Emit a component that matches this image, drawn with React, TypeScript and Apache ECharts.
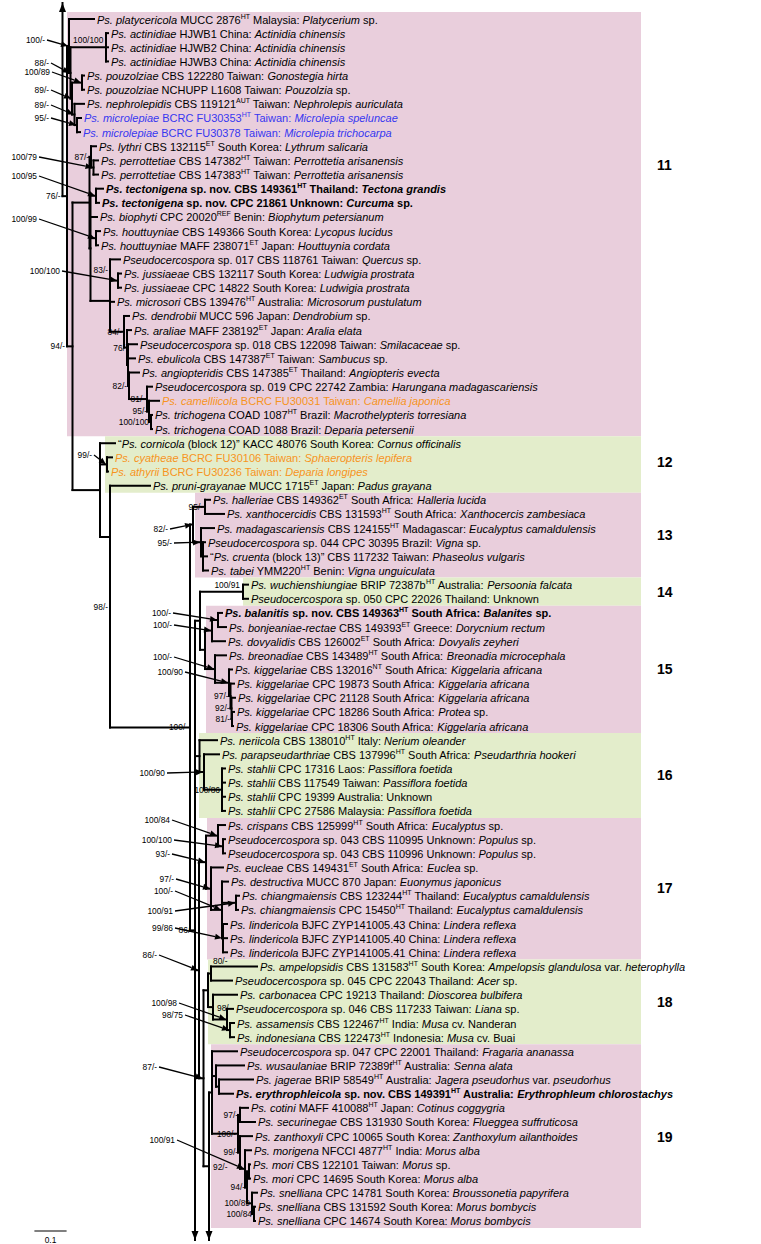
import React, { useEffect, useRef } from "react";
import * as echarts from "echarts";

// ---------- DATA ----------
// Taxa, top to bottom. *italic*, ^superscript^
const TAXA: string[] = [
  "*Ps. platycericola* MUCC 2876^HT^ Malaysia: *Platycerium* sp.",
  "*Ps. actinidiae* HJWB1 China: *Actinidia chinensis*",
  "*Ps. actinidiae* HJWB2 China: *Actinidia chinensis*",
  "*Ps. actinidiae* HJWB3 China: *Actinidia chinensis*",
  "*Ps. pouzolziae* CBS 122280 Taiwan: *Gonostegia hirta*",
  "*Ps. pouzolziae* NCHUPP L1608 Taiwan: *Pouzolzia* sp.",
  "*Ps. nephrolepidis* CBS 119121^AUT^ Taiwan: *Nephrolepis auriculata*",
  "*Ps. microlepiae* BCRC FU30353^HT^ Taiwan: *Microlepia speluncae*",
  "*Ps. microlepiae* BCRC FU30378 Taiwan: *Microlepia trichocarpa*",
  "*Ps. lythri* CBS 132115^ET^ South Korea: *Lythrum salicaria*",
  "*Ps. perrottetiae* CBS 147382^HT^ Taiwan: *Perrottetia arisanensis*",
  "*Ps. perrottetiae* CBS 147383^HT^ Taiwan: *Perrottetia arisanensis*",
  "*Ps. tectonigena* sp. nov. CBS 149361^HT^ Thailand: *Tectona grandis*",
  "*Ps. tectonigena* sp. nov. CPC 21861 Unknown: *Curcuma* sp.",
  "*Ps. biophyti* CPC 20020^REF^ Benin: *Biophytum petersianum*",
  "*Ps. houttuyniae* CBS 149366 South Korea: *Lycopus lucidus*",
  "*Ps. houttuyniae* MAFF 238071^ET^ Japan: *Houttuynia cordata*",
  "*Pseudocercospora* sp. 017 CBS 118761 Taiwan: *Quercus* sp.",
  "*Ps. jussiaeae* CBS 132117 South Korea: *Ludwigia prostrata*",
  "*Ps. jussiaeae* CPC 14822 South Korea: *Ludwigia prostrata*",
  "*Ps. microsori* CBS 139476^HT^ Australia: *Microsorum pustulatum*",
  "*Ps. dendrobii* MUCC 596 Japan: *Dendrobium* sp.",
  "*Ps. araliae* MAFF 238192^ET^ Japan: *Aralia elata*",
  "*Pseudocercospora* sp. 018 CBS 122098 Taiwan: *Smilacaceae* sp.",
  "*Ps. ebulicola* CBS 147387^ET^ Taiwan: *Sambucus* sp.",
  "*Ps. angiopteridis* CBS 147385^ET^ Thailand: *Angiopteris evecta*",
  "*Pseudocercospora* sp. 019 CPC 22742 Zambia: *Harungana madagascariensis*",
  "*Ps. camelliicola* BCRC FU30031 Taiwan: *Camellia japonica*",
  "*Ps. trichogena* COAD 1087^HT^ Brazil: *Macrothelypteris torresiana*",
  "*Ps. trichogena* COAD 1088 Brazil: *Deparia petersenii*",
  "\u201c*Ps. cornicola* (block 12)\u201d KACC 48076 South Korea: *Cornus officinalis*",
  "*Ps. cyatheae* BCRC FU30106 Taiwan: *Sphaeropteris lepifera*",
  "*Ps. athyrii* BCRC FU30236 Taiwan: *Deparia longipes*",
  "*Ps. pruni-grayanae* MUCC 1715^ET^ Japan: *Padus grayana*",
  "*Ps. halleriae* CBS 149362^ET^ South Africa: *Halleria lucida*",
  "*Ps. xanthocercidis* CBS 131593^HT^ South Africa: *Xanthocercis zambesiaca*",
  "*Ps. madagascariensis* CBS 124155^HT^ Madagascar: *Eucalyptus camaldulensis*",
  "*Pseudocercospora* sp. 044 CPC 30395 Brazil: *Vigna* sp.",
  "\u201c*Ps. cruenta* (block 13)\u201d CBS 117232 Taiwan: *Phaseolus vulgaris*",
  "*Ps. tabei* YMM220^HT^ Benin: *Vigna unguiculata*",
  "*Ps. wuchienshiungiae* BRIP 72387b^HT^ Australia: *Persoonia falcata*",
  "*Pseudocercospora* sp. 050 CPC 22026 Thailand: Unknown",
  "*Ps. balanitis* sp. nov. CBS 149363^HT^ South Africa: *Balanites* sp.",
  "*Ps. bonjeaniae-rectae* CBS 149393^ET^ Greece: *Dorycnium rectum*",
  "*Ps. dovyalidis* CBS 126002^ET^ South Africa: *Dovyalis zeyheri*",
  "*Ps. breonadiae* CBS 143489^HT^ South Africa: *Breonadia microcephala*",
  "*Ps. kiggelariae* CBS 132016^NT^ South Africa: *Kiggelaria africana*",
  "*Ps. kiggelariae* CPC 19873 South Africa: *Kiggelaria africana*",
  "*Ps. kiggelariae* CPC 21128 South Africa: *Kiggelaria africana*",
  "*Ps. kiggelariae* CPC 18286 South Africa: *Protea* sp.",
  "*Ps. kiggelariae* CPC 18306 South Africa: *Kiggelaria africana*",
  "*Ps. neriicola* CBS 138010^HT^ Italy: *Nerium oleander*",
  "*Ps. parapseudarthriae* CBS 137996^HT^ South Africa: *Pseudarthria hookeri*",
  "*Ps. stahlii* CPC 17316 Laos: *Passiflora foetida*",
  "*Ps. stahlii* CBS 117549 Taiwan: *Passiflora foetida*",
  "*Ps. stahlii* CPC 19399 Australia: Unknown",
  "*Ps. stahlii* CPC 27586 Malaysia: *Passiflora foetida*",
  "*Ps. crispans* CBS 125999^HT^ South Africa: *Eucalyptus* sp.",
  "*Pseudocercospora* sp. 043 CBS 110995 Unknown: *Populus* sp.",
  "*Pseudocercospora* sp. 043 CBS 110996 Unknown: *Populus* sp.",
  "*Ps. eucleae* CBS 149431^ET^ South Africa: *Euclea* sp.",
  "*Ps. destructiva* MUCC 870 Japan: *Euonymus japonicus*",
  "*Ps. chiangmaiensis* CBS 123244^HT^ Thailand: *Eucalyptus camaldulensis*",
  "*Ps. chiangmaiensis* CPC 15450^HT^ Thailand: *Eucalyptus camaldulensis*",
  "*Ps. lindericola* BJFC ZYP141005.43 China: *Lindera reflexa*",
  "*Ps. lindericola* BJFC ZYP141005.40 China: *Lindera reflexa*",
  "*Ps. lindericola* BJFC ZYP141005.41 China: *Lindera reflexa*",
  "*Ps. ampelopsidis* CBS 131583^HT^ South Korea: *Ampelopsis glandulosa* var. *heterophylla*",
  "*Pseudocercospora* sp. 045 CPC 22043 Thailand: *Acer* sp.",
  "*Ps. carbonacea* CPC 19213 Thailand: *Dioscorea bulbifera*",
  "*Pseudocercospora* sp. 046 CBS 117233 Taiwan: *Liana* sp.",
  "*Ps. assamensis* CBS 122467^HT^ India: *Musa* cv. Nanderan",
  "*Ps. indonesiana* CBS 122473^HT^ Indonesia: *Musa* cv. Buai",
  "*Pseudocercospora* sp. 047 CPC 22001 Thailand: *Fragaria ananassa*",
  "*Ps. wusaulaniae* BRIP 72389f^HT^ Australia: *Senna alata*",
  "*Ps. jagerae* BRIP 58549^HT^ Australia: *Jagera pseudorhus* var. *pseudorhus*",
  "*Ps. erythrophleicola* sp. nov. CBS 149391^HT^ Australia: *Erythrophleum chlorostachys*",
  "*Ps. cotini* MAFF 410088^HT^ Japan: *Cotinus coggygria*",
  "*Ps. securinegae* CBS 131930 South Korea: *Flueggea suffruticosa*",
  "*Ps. zanthoxyli* CPC 10065 South Korea: *Zanthoxylum ailanthoides*",
  "*Ps. morigena* NFCCI 4877^HT^ India: *Morus alba*",
  "*Ps. mori* CBS 122101 Taiwan: *Morus* sp.",
  "*Ps. mori* CPC 14695 South Korea: *Morus alba*",
  "*Ps. snelliana* CPC 14781 South Korea: *Broussonetia papyrifera*",
  "*Ps. snelliana* CBS 131592 South Korea: *Morus bombycis*",
  "*Ps. snelliana* CPC 14674 South Korea: *Morus bombycis*",
];

// tip depth of each terminal branch (tree units)
const TIP: number[] = [
  94, 108, 108, 108, 84, 84, 84, 81, 80, 96,
  98, 98, 103, 99, 97, 100, 98, 120, 121, 121,
  114, 129, 131, 137, 135, 139, 152, 159, 152, 152,
  115, 112, 108, 150, 210, 224, 214, 205, 207, 208,
  248, 248, 222, 226, 225, 226, 232, 234, 235, 234,
  233, 217, 219, 225, 225, 225, 225, 225, 225, 225,
  223, 228, 239, 238, 227, 227, 227, 257, 232, 237,
  233, 234, 234, 237, 244, 253, 233, 248, 255, 252,
  251, 250, 250, 257, 255, 255,
];

const BOLD_TAXA: number[] = [12, 13, 42, 76];
const BLUE_TAXA: number[] = [7, 8];
const ORANGE_TAXA: number[] = [27, 31, 32];

// clades: name, first taxon, last taxon
const CLADE_NAMES: string[] = ["11", "12", "13", "14", "15", "16", "17", "18", "19"];
const CLADE_FIRST: number[] = [0, 30, 34, 40, 42, 51, 57, 67, 73];
const CLADE_LAST: number[] = [29, 33, 39, 41, 50, 56, 66, 72, 85];

// tree: node(id, depth, support, children); children = taxon index | node | "bottom" (continues off figure)
type TNode = { id: string; x: number; s: string; c: any[] };
const n = (id: string, x: number, s: string, c: any[]): TNode => ({ id, x, s, c });

const micro = n("micro", 77, "95/-", [7, 8]);
const nm = n("nm", 74.5, "89/-", [6, micro]);
const pouz = n("pouz", 82, "100/89", [4, 5]);
const nA = n("A", 72, "89/-", [pouz, nm]);
const actin = n("actin", 106, "100/100", [1, 2, 3]);
const nB = n("B", 70.5, "88/-", [actin, nA]);
const nC = n("C", 69, "100/-", [0, nB]);
const perr = n("perr", 93.5, "100/79", [10, 11]);
const nD = n("D", 91, "87/-", [9, perr]);
const tect = n("tect", 96, "100/95", [12, 13]);
const hout = n("hout", 96, "100/99", [15, 16]);
const jus = n("jus", 118, "100/100", [18, 19]);
const p17 = n("p17", 110, "83/-", [17, jus]);
const trich = n("trich", 151, "100/100", [28, 29]);
const nV = n("V", 149, "95/-", [27, trich]);
const nW = n("W", 147, "81/-", [26, nV]);
const z82 = n("z82", 129, "82/-", [25, nW]);
const nR = n("R", 128, "", [23, 24, z82]);
const nQ = n("Q", 127, "76/", [22, nR]);
const nY = n("Y", 124, "84/-", [21, nQ]);
const nX = n("X", 110, "", [p17, 20, nY]);
const krest = n("Krest", 90.5, "", [tect, 14, hout, nX]);
const nK = n("K", 89.5, "", [nD, krest]);
const nCA = n("CA", 107, "99/-", [31, 32]);
const hx = n("hx", 205, "95/-", [34, 35]);
const mct3 = n("mct3", 203, "", [37, 38, 39]);
const mct = n("mct", 201, "95/-", [36, mct3]);
const c13 = n("C13", 193, "82/-", [hx, mct]);
const c14 = n("C14", 243, "100/91", [40, 41]);
const bb = n("bb", 218, "100/-", [42, 43]);
const bbd = n("bbd", 212, "100/-", [bb, 44]);
const kig3 = n("kig3", 232, "81/-", [49, 50]);
const kig2 = n("kig2", 231.5, "92/-", [48, kig3]);
const kig1 = n("kig1", 230.5, "97/-", [47, kig2]);
const kigg = n("kigg", 229, "100/90", [46, kig1]);
const bk = n("bk", 215, "100/-", [45, kigg]);
const c15 = n("C15", 205, "", [bbd, bk]);
const c1415 = n("C1415", 200, "", [c14, c15]);
const stahl = n("stahl", 222, "100/86", [53, 54, 55, 56]);
const ps = n("ps", 204, "100/90", [52, stahl]);
const c16 = n("C16", 199.5, "", [51, ps]);
const s043 = n("s043", 223, "100/100", [58, 59]);
const cr043 = n("cr043", 218, "100/84", [57, s043]);
const chi = n("chi", 236, "100/91", [62, 63]);
const lin = n("lin", 223, "99/86", [64, 65, 66]);
const dcl = n("dcl", 222, "100/-", [61, chi, lin]);
const eucG = n("eucG", 211, "97/-", [60, dcl]);
const c17 = n("C17", 206, "93/-", [cr043, eucG]);
const amp = n("amp", 211, "80/-", [67, 68]);
const ai = n("ai", 230, "98/75", [71, 72]);
const s46ai = n("s46ai", 227, "100/98", [70, ai]);
const carbG = n("carbG", 213, "98/-", [69, s46ai]);
const c18 = n("C18", 208, "", [amp, carbG]);
const je = n("je", 219, "", [75, 76]);
const wje = n("wje", 216, "", [74, je]);
const cs = n("cs", 240, "97/-", [77, 78]);
const sn2 = n("sn2", 254, "100/84", [84, 85]);
const sn = n("sn", 252, "100/89", [83, sn2]);
const mori = n("mori", 249, "", [81, 82]);
const ms = n("ms", 247, "94/-", [mori, sn]);
const mm = n("mm", 245, "100/91", [80, ms]);
const mzn = n("mzn", 240, "99/-", [79, mm]);
const m100 = n("M100", 238, "100/-", [cs, mzn]);
const c19a = n("C19a", 212, "", [73, wje, m100]);
const n92 = n("N92", 209, "92/-", [c19a, "bottom"]);
const n87 = n("N87", 203.5, "87/-", [c18, n92]);
const n86c = n("N86c", 199, "86/-", [c17, n87]);
const n86 = n("N86", 195, "86/-", [c1415, c16, n86c, "bottom"]);
const big = n("BIG", 190, "100/-", [c13, n86]);
const j98 = n("J98", 110, "98/-", [33, big]);
const nJ = n("J", 100, "", [30, nCA, j98]);
const nH = n("H", 72.5, "94/-", [nK, nJ]);
const ROOT = n("I", 67, "76/-", [nC, nH]); // its stem continues upward off the figure

// ---------- LAYOUT (pixels of the 761x1244 page) ----------
const W = 761, H = 1244;
const ROW_PX = 14.141, ROW0_PX = 19;
const rowOf = (ypx: number) => (ypx - ROW0_PX) / ROW_PX;
const OFF_TOP = rowOf(3);
const OFF_BOTTOM = rowOf(1240);
const ROOT_STEM_X = 62.5;
const BOX_RIGHT = 641;
const BOX_LEFT: number[] = [67, 105, 195, 243, 206, 199, 207, 208, 211];
const CLADE_LABEL_Y: number[] = [165, 462, 535, 592, 669, 775, 888, 1002, 1137];
const PINK = "#e9cedc", GREEN = "#e3edcb";
const FONT = "Liberation Sans";
const TAXON_FONT_SIZE = 11;
// where a child's stem joins its parent when drawn away from the child's own midpoint (px)
const JOIN_AT: Record<string, number> = { J98: 537 };
// label placement: L (left of node), LP (left of parent line), LA (left, above), A (above stem), R (right), RA (right above)
const LABEL_MODE: Record<string, string> = { actin: "A", C14: "LA", amp: "RA", carbG: "R", N92: "R", H: "LP", I: "LP" };
// callout labels: right edge x, y (px)
const CALLOUT: Record<string, [number, number]> = {
  C: [45, 40], B: [49, 63], pouz: [50, 72], A: [49, 90], nm: [49, 105], micro: [49, 118],
  perr: [37, 157], tect: [37, 176], hout: [37, 219], jus: [60, 271], CA: [92, 455],
  C13: [168, 529], mct: [172, 543], bb: [171, 613], bbd: [172, 625], bk: [172, 657], kigg: [183, 672],
  ps: [165, 773], cr043: [170, 820], s043: [172, 840], C17: [170, 854], eucG: [174, 879],
  dcl: [173, 891], chi: [173, 911], lin: [173, 928], N86c: [157, 955], s46ai: [177, 1003],
  ai: [183, 1015], N87: [157, 1067], mm: [175, 1140],
};

function toRich(s: string, bold: boolean): string {
  let out = "", buf = "", it = false, sup = false;
  const flush = () => {
    if (buf) {
      const k = (sup ? "s" : it ? "i" : "n") + (bold ? "b" : "");
      out += "{" + k + "|" + buf + "}";
      buf = "";
    }
  };
  for (const ch of s) {
    if (ch === "*") { flush(); it = !it; }
    else if (ch === "^") { flush(); sup = !sup; }
    else buf += ch;
  }
  flush();
  return out;
}

function buildOption() {
  const segs: number[][] = [];
  const arrows: number[][] = [];
  const labels: { id: string; x: number; y: number; px: number; s: string }[] = [];
  const lay = (nd: TNode, parentX: number): number => {
    const ys: number[] = [];
    for (const ch of nd.c) {
      if (typeof ch === "number") {
        ys.push(ch);
        segs.push([nd.x, ch, TIP[ch], ch]);
      } else if (ch === "bottom") {
        ys.push(OFF_BOTTOM);
        arrows.push([nd.x, OFF_BOTTOM, 1]);
      } else {
        const y = lay(ch, nd.x);
        const jy = JOIN_AT[ch.id] !== undefined ? rowOf(JOIN_AT[ch.id]) : y;
        ys.push(jy);
        segs.push([nd.x, jy, ch.x, jy]);
      }
    }
    const y0 = Math.min(...ys), y1 = Math.max(...ys);
    segs.push([nd.x, y0, nd.x, y1]);
    const y = (y0 + y1) / 2;
    if (nd.s) labels.push({ id: nd.id, x: nd.x, y, px: parentX, s: nd.s });
    return y;
  };
  const rootY = lay(ROOT, ROOT_STEM_X);
  // stem of the root: elbow to the left, then up, off the figure
  segs.push([ROOT_STEM_X, rootY, ROOT.x, rootY]);
  segs.push([ROOT_STEM_X, rootY, ROOT_STEM_X, OFF_TOP]);
  arrows.push([ROOT_STEM_X, OFF_TOP, -1]);
  // scale bar 0.1
  const scaleSeg = [35, rowOf(1231), 66, rowOf(1231)];

  const plainLabels = labels.filter((l) => !CALLOUT[l.id]);
  const callLabels = labels.filter((l) => CALLOUT[l.id]);

  const richStyles: any = {};
  const base = { fontFamily: FONT, fontSize: TAXON_FONT_SIZE, lineHeight: 14 };
  richStyles.n = { ...base };
  richStyles.i = { ...base, fontStyle: "italic" };
  richStyles.s = { fontFamily: FONT, fontSize: 7, lineHeight: 8, verticalAlign: "top" };
  richStyles.nb = { ...base, fontWeight: "bold" };
  richStyles.ib = { ...base, fontWeight: "bold", fontStyle: "italic" };
  richStyles.sb = { fontFamily: FONT, fontSize: 7, lineHeight: 8, verticalAlign: "top", fontWeight: "bold" };

  const smallText = (x: number, y: number, text: string, align: string) => ({
    type: "text",
    style: { x, y, text, fill: "#000", fontFamily: FONT, fontSize: 8.4, align, verticalAlign: "middle" },
  });

  return {
    animation: false,
    backgroundColor: "#fff",
    grid: { left: 0, right: 0, top: 0, bottom: 0 },
    xAxis: { type: "value", min: 0, max: W, show: false },
    yAxis: { type: "value", min: rowOf(0), max: rowOf(H), inverse: true, show: false },
    series: [
      {
        type: "custom", coordinateSystem: "cartesian2d", clip: false, silent: true, z: 1,
        data: CLADE_NAMES.map((_, k) => [BOX_LEFT[k], CLADE_FIRST[k] - 0.5, BOX_RIGHT, CLADE_LAST[k] + 0.5]),
        renderItem: (params: any, api: any) => {
          const a = api.coord([api.value(0), api.value(1)]);
          const b = api.coord([api.value(2), api.value(3)]);
          const k = params.dataIndex;
          const lbl = api.coord([BOX_RIGHT + 16, rowOf(CLADE_LABEL_Y[k])]);
          return {
            type: "group",
            children: [
              { type: "rect", shape: { x: a[0], y: a[1], width: b[0] - a[0], height: b[1] - a[1] }, style: { fill: k % 2 === 0 ? PINK : GREEN } },
              { type: "text", style: { x: lbl[0], y: lbl[1], text: CLADE_NAMES[k], fill: "#000", fontFamily: FONT, fontSize: 14, fontWeight: "bold", align: "left", verticalAlign: "middle" } },
            ],
          };
        },
      },
      {
        type: "custom", coordinateSystem: "cartesian2d", clip: false, silent: true, z: 2,
        data: segs.concat([scaleSeg]),
        renderItem: (params: any, api: any) => {
          const a = api.coord([api.value(0), api.value(1)]);
          const b = api.coord([api.value(2), api.value(3)]);
          return {
            type: "line",
            shape: { x1: a[0], y1: a[1], x2: b[0], y2: b[1] },
            style: { stroke: "#000", lineWidth: params.dataIndex === segs.length ? 1.2 : 2, lineCap: "square" },
          };
        },
      },
      {
        type: "custom", coordinateSystem: "cartesian2d", clip: false, silent: true, z: 3,
        data: arrows,
        renderItem: (params: any, api: any) => {
          const p = api.coord([api.value(0), api.value(1)]);
          const d = api.value(2);
          return {
            type: "polygon",
            shape: { points: [[p[0], p[1]], [p[0] - 3.5, p[1] - d * 9], [p[0] + 3.5, p[1] - d * 9]] },
            style: { fill: "#000" },
          };
        },
      },
      {
        type: "custom", coordinateSystem: "cartesian2d", clip: false, silent: true, z: 4,
        data: TAXA.map((_, i) => [TIP[i] + 3, i]),
        renderItem: (params: any, api: any) => {
          const i = params.dataIndex;
          const p = api.coord([api.value(0), api.value(1)]);
          const fill = BLUE_TAXA.includes(i) ? "#3737f0" : ORANGE_TAXA.includes(i) ? "#f7941d" : "#000";
          return {
            type: "text",
            style: {
              x: p[0], y: p[1] + 0.5, text: toRich(TAXA[i], BOLD_TAXA.includes(i)), rich: richStyles,
              fill, align: "left", verticalAlign: "middle", fontFamily: FONT, fontSize: TAXON_FONT_SIZE,
            },
          };
        },
      },
      {
        type: "custom", coordinateSystem: "cartesian2d", clip: false, silent: true, z: 4,
        data: plainLabels.map((l) => [l.x, l.y]),
        renderItem: (params: any, api: any) => {
          const l = plainLabels[params.dataIndex];
          const p = api.coord([l.x, l.y]);
          const mode = LABEL_MODE[l.id] || "L";
          let x = p[0] - 2, y = p[1], align = "right";
          if (mode === "LP") { x = api.coord([l.px, l.y])[0] - 2; }
          else if (mode === "LA") { x = p[0] - 3; y = p[1] - 7; }
          else if (mode === "A") { const q = api.coord([(l.px + l.x) / 2, l.y]); x = q[0]; y = p[1] - 7; align = "center"; }
          else if (mode === "R") { x = p[0] + 4; y = p[1] + 1; align = "left"; }
          else if (mode === "RA") { x = p[0] + 2; y = p[1] - 13; align = "left"; }
          return smallText(x, y, l.s, align);
        },
      },
      {
        type: "custom", coordinateSystem: "cartesian2d", clip: false, silent: true, z: 5,
        data: callLabels.map((l) => [l.x, l.y]),
        renderItem: (params: any, api: any) => {
          const l = callLabels[params.dataIndex];
          const [lx, ly] = CALLOUT[l.id];
          const a = api.coord([lx, rowOf(ly)]);
          const t = api.coord([l.x - 1, l.y]);
          const sx = a[0] + 2, sy = a[1];
          const dx = t[0] - sx, dy = t[1] - sy;
          const len = Math.sqrt(dx * dx + dy * dy) || 1;
          const ux = dx / len, uy = dy / len;
          const bx = t[0] - ux * 7, by = t[1] - uy * 7;
          return {
            type: "group",
            children: [
              smallText(a[0], a[1], l.s, "right"),
              { type: "line", shape: { x1: sx, y1: sy, x2: bx, y2: by }, style: { stroke: "#000", lineWidth: 1.3 } },
              { type: "polygon", shape: { points: [[t[0], t[1]], [bx - uy * 3, by + ux * 3], [bx + uy * 3, by - ux * 3]] }, style: { fill: "#000" } },
            ],
          };
        },
      },
      {
        type: "custom", coordinateSystem: "cartesian2d", clip: false, silent: true, z: 5,
        data: [[50.5, rowOf(1240)]],
        renderItem: (params: any, api: any) => {
          const p = api.coord([api.value(0), api.value(1)]);
          return smallText(p[0], p[1], "0.1", "center");
        },
      },
    ],
  };
}

export default function App() {
  const ref = useRef<HTMLDivElement>(null);
  useEffect(() => {
    const chart = echarts.init(ref.current as HTMLDivElement, null, { renderer: "svg" });
    chart.setOption(buildOption() as any);
    return () => chart.dispose();
  }, []);
  return (
    <div
      ref={ref}
      style={{ position: "absolute", left: 0, top: 0, width: W, height: H, background: "#fff" }}
    />
  );
}
